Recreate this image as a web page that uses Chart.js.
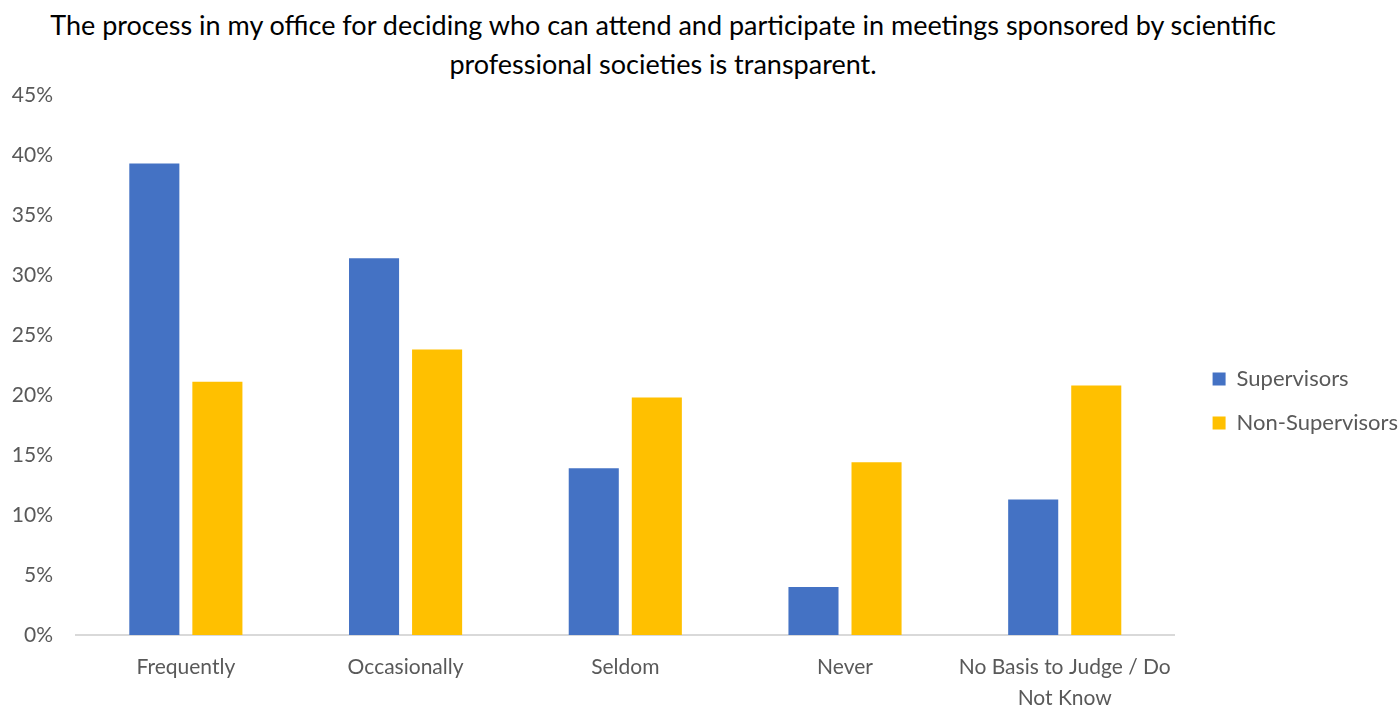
<!DOCTYPE html>
<html>
<head>
<meta charset="utf-8">
<script src="https://cdn.jsdelivr.net/npm/chart.js@4"></script>
<style>
  html, body { margin: 0; padding: 0; background: #fff; }
  #wrap { position: relative; width: 1399px; height: 707px; }
  #titulo {
    position: absolute; left: 0; top: 5px; width: 1326px;
    text-align: center; font-family: Lato, "Open Sans", sans-serif;
    font-size: 27px; line-height: 39px; color: #000;
  }
  canvas { position: absolute; left: 0; top: 0; }
</style>
</head>
<body>
<div id="wrap">
  <div id="titulo">The process in my office for deciding who can attend and participate in meetings sponsored by scientific<br>professional societies is transparent.</div>
  <canvas id="grafico" width="1399" height="707"></canvas>
</div>
<script>
// Categorias e séries (percentuais)
const categorias = ['Frequently', 'Occasionally', 'Seldom', 'Never', ['No Basis to Judge / Do', 'Not Know']];
const supervisores = [39.3, 31.4, 13.9, 4.0, 11.3];
const naoSupervisores = [21.1, 23.8, 19.8, 14.4, 20.8];
const rotulosSeries = ['Supervisors', 'Non-Supervisors'];

const fonte = 'Lato, "Open Sans", sans-serif';
const cinza = '#595959';

// Espaço vazio entre a área do gráfico e a legenda
const espacador = {
  id: 'espacador',
  beforeInit(chart) {
    Chart.layouts.addBox(chart, {
      position: 'right', weight: 500, fullSize: false, options: {},
      width: 0, height: 0, left: 0, right: 0, top: 0, bottom: 0,
      isHorizontal() { return false; },
      update(maxW, maxH) { this.width = 16; this.height = maxH; },
      draw() {}
    });
  }
};

new Chart(document.getElementById('grafico'), {
  type: 'bar',
  data: {
    labels: categorias,
    datasets: [
      { label: rotulosSeries[0], data: supervisores, backgroundColor: '#4472C4', categoryPercentage: 0.574, barPercentage: 0.794 },
      { label: rotulosSeries[1], data: naoSupervisores, backgroundColor: '#FFC000', categoryPercentage: 0.574, barPercentage: 0.794 }
    ]
  },
  plugins: [espacador],
  options: {
    responsive: false,
    animation: false,
    layout: { padding: { top: 95, left: 0, right: -9, bottom: 0 } },
    plugins: {
      title: { display: false },
      tooltip: { enabled: false },
      legend: {
        position: 'right',
        labels: {
          font: { family: fonte, size: 22 },
          color: cinza,
          boxWidth: 13,
          boxHeight: 13,
          padding: 22
        }
      }
    },
    scales: {
      y: {
        min: 0, max: 45,
        afterFit: s => { s.width = 76; },
        ticks: {
          stepSize: 5,
          font: { family: fonte, size: 21 },
          color: cinza,
          padding: 15,
          callback: v => v + '%'
        },
        grid: { display: false },
        border: { display: false }
      },
      x: {
        afterFit: s => { s.height = 72; },
        ticks: {
          font: { family: fonte, size: 21, lineHeight: 1.48 },
          color: cinza,
          padding: 9,
          maxRotation: 0,
          autoSkip: false
        },
        grid: { display: false },
        border: { display: true, color: '#D9D9D9', width: 2 }
      }
    }
  }
});
</script>
</body>
</html>
